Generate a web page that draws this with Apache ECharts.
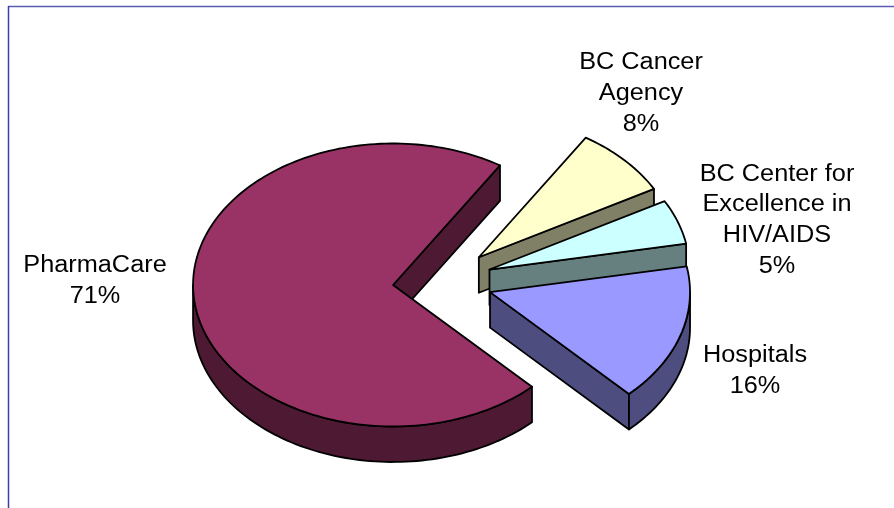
<!DOCTYPE html>
<html>
<head>
<meta charset="utf-8">
<style>html,body{margin:0;padding:0;background:#fff}#c{width:894px;height:508px}</style>
<script src="https://cdn.jsdelivr.net/npm/echarts@6/dist/echarts.min.js"></script>
</head>
<body>
<div id="c"></div>
<script>
// Data (clockwise from the PharmaCare slice; this is also the paint order)
var categories = ['PharmaCare', 'BC Cancer Agency', 'BC Center for Excellence in HIV/AIDS', 'Hospitals'];
var shares = [71.2, 8, 5.1, 15.7];
var labelTexts = ['PharmaCare\n71%', 'BC Cancer\nAgency\n8%', 'BC Center for\nExcellence in\nHIV/AIDS\n5%', 'Hospitals\n16%'];
var faceColors = ['#993366', '#FFFFCC', '#CCFFFF', '#9999FF'];
var sideColors = ['#4D1933', '#808066', '#668080', '#4D4D80'];

// Layout
var labelX = [95, 641, 777, 755];
var labelY = [281.5, 93.5, 220.5, 371.5];
var CX = 442.6, CY = 281.4, RX = 200, RY = 141.5, DEPTH = 35.5, EXPLODE = 0.249, START_DEG = 46;
var TEXT_STRETCH = 1.1;
var RAD = Math.PI / 180;
var total = shares.reduce(function (a, b) { return a + b; }, 0);

function arc(ox, oy, a0, a1) {
  var pts = [], n = Math.max(2, Math.ceil(Math.abs(a1 - a0) / 1.5));
  for (var i = 0; i <= n; i++) {
    var t = (a0 + (a1 - a0) * i / n) * RAD;
    pts.push([ox + RX * Math.cos(t), oy + RY * Math.sin(t)]);
  }
  return pts;
}
function down(pts) {
  return pts.map(function (p) { return [p[0], p[1] + DEPTH]; }).reverse();
}
function poly(points, fill) {
  return { type: 'polygon', shape: { points: points }, silent: true,
    style: { fill: fill, stroke: '#000', lineWidth: 1.8, lineJoin: 'round' } };
}
function wallVisible(deg, isEnd) {
  var c = Math.cos(deg * RAD);
  return isEnd ? c > 0 : c < 0;
}

function renderItem(params, api) {
  var idx = params.dataIndex, before = 0;
  for (var k = 0; k < idx; k++) before += shares[k];
  var a0 = START_DEG + before / total * 360;
  var a1 = a0 + api.value(0) / total * 360;
  var mid = (a0 + a1) / 2 * RAD;
  var ox = CX + EXPLODE * RX * Math.cos(mid);
  var oy = CY + EXPLODE * RY * Math.sin(mid);
  var kids = [], apex = [ox, oy];

  [[a0, false], [a1, true]].forEach(function (e) {
    if (wallVisible(e[0], e[1])) {
      var top = [apex, arc(ox, oy, e[0], e[0])[0]];
      kids.push(poly(top.concat(down(top)), sideColors[idx]));
    }
  });
  // front-facing rim: parts of the sweep within 0..180 (mod 360)
  [0, 360].forEach(function (off) {
    var r0 = Math.max(a0, off), r1 = Math.min(a1, off + 180);
    if (r1 > r0) {
      var rim = arc(ox, oy, r0, r1);
      kids.push(poly(rim.concat(down(rim)), sideColors[idx]));
    }
  });
  kids.push(poly([apex].concat(arc(ox, oy, a0, a1)), faceColors[idx]));
  kids.push({ type: 'text', silent: true,
    x: labelX[idx], y: labelY[idx], scaleX: TEXT_STRETCH,
    style: {
      text: labelTexts[idx], x: 0, y: 0, align: 'center', verticalAlign: 'middle',
      fontFamily: 'Liberation Sans', fontSize: 23, lineHeight: 30.7, fill: '#000' } });
  return { type: 'group', children: kids };
}

var chart = echarts.init(document.getElementById('c'), null, { renderer: 'canvas' });
chart.setOption({
  animation: false,
  backgroundColor: '#fff',
  graphic: [
    { type: 'line', shape: { x1: 8, y1: 6.5, x2: 894, y2: 6.5 }, style: { stroke: '#5C5CB4', lineWidth: 1.5 } },
    { type: 'line', shape: { x1: 8.5, y1: 6, x2: 8.5, y2: 508 }, style: { stroke: '#3C3CAA', lineWidth: 1.5 } }
  ],
  series: [{
    type: 'custom',
    coordinateSystem: 'none',
    renderItem: renderItem,
    data: shares.map(function (v, i) { return { name: categories[i], value: [v] }; })
  }]
});
</script>
</body>
</html>
